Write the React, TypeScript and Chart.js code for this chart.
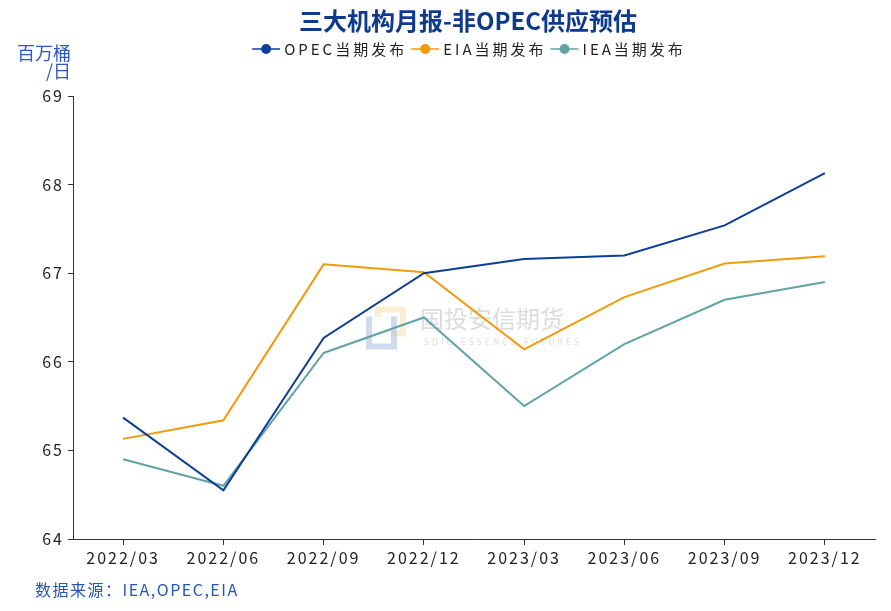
import React, { useEffect, useRef } from "react";
import { Chart, registerables } from "chart.js";

Chart.register(...registerables);

const categories = ["2022/03", "2022/06", "2022/09", "2022/12", "2023/03", "2023/06", "2023/09", "2023/12"];
const opecValues = [65.37, 64.55, 66.27, 67.0, 67.16, 67.2, 67.54, 68.13];
const eiaValues = [65.13, 65.34, 67.1, 67.01, 66.14, 66.73, 67.11, 67.19];
const ieaValues = [64.9, 64.6, 66.1, 66.5, 65.5, 66.2, 66.7, 66.9];
const seriesNames = ["OPEC当期发布", "EIA当期发布", "IEA当期发布"];
const seriesColors = ["#0c3f96", "#f39a0b", "#62a3a6"];
const yMin = 64;
const yMax = 69;
const titleText = "三大机构月报-非OPEC供应预估";
const unitLines = ["百万桶", "/日"];
const sourceText = "数据来源：IEA,OPEC,EIA";

const FONT = "'Noto Sans CJK SC', 'Noto Sans', sans-serif";

const decorPlugin = {
  id: "decor",
  beforeDraw(chart: any) {
    (chart.ctx as any).letterSpacing = "2px";
  },
  beforeDatasetsDraw(chart: any) {
    const { ctx, chartArea } = chart;
    const cx = (chartArea.left + chartArea.right) / 2;
    const cy = (chartArea.top + chartArea.bottom) / 2;
    ctx.save();
    ctx.fillStyle = "rgba(252,222,170,0.55)";
    ctx.fillRect(cx - 99, cy - 11, 31, 30);
    ctx.fillStyle = "#ffffff";
    ctx.fillRect(cx - 93, cy - 5, 19, 18);
    ctx.fillStyle = "rgba(170,190,222,0.55)";
    ctx.fillRect(cx - 108, cy - 1, 31, 33);
    ctx.fillStyle = "#ffffff";
    ctx.fillRect(cx - 102, cy - 1, 19, 27);
    (ctx as any).letterSpacing = "0px";
    ctx.font = `24px ${FONT}`;
    ctx.fillStyle = "rgba(185,185,185,0.5)";
    ctx.textBaseline = "middle";
    ctx.textAlign = "left";
    ctx.fillText("国投安信期货", cx - 54, cy + 1);
    ctx.font = `8px 'DejaVu Sans', sans-serif`;
    (ctx as any).letterSpacing = "3px";
    ctx.fillStyle = "rgba(200,200,200,0.6)";
    ctx.fillText("SDIC ESSENCE FUTURES", cx - 50, cy + 25);
    ctx.restore();
  },
  afterDraw(chart: any) {
    const { ctx, chartArea } = chart;
    const cx = (chartArea.left + chartArea.right) / 2;
    ctx.save();
    // title
    (ctx as any).letterSpacing = "0px";
    ctx.font = `bold 24px ${FONT}`;
    ctx.fillStyle = "#0d3a8c";
    ctx.textAlign = "center";
    ctx.textBaseline = "middle";
    ctx.fillText(titleText, cx - 6, 21);

    // legend
    (ctx as any).letterSpacing = "3px";
    ctx.font = `15px ${FONT}`;
    const iconW = 28;
    const gapIconText = 4;
    const gapItems = 4;
    const widths = seriesNames.map((n) => ctx.measureText(n).width);
    const total = widths.reduce((a, w) => a + iconW + gapIconText + w, 0) + gapItems * (seriesNames.length - 1);
    let x = cx - 5 - total / 2;
    const ly = 49;
    seriesNames.forEach((name, i) => {
      ctx.strokeStyle = seriesColors[i];
      ctx.lineWidth = 1.5;
      ctx.beginPath();
      ctx.moveTo(x, ly);
      ctx.lineTo(x + iconW, ly);
      ctx.stroke();
      ctx.fillStyle = seriesColors[i];
      ctx.beginPath();
      ctx.arc(x + iconW / 2, ly, 5, 0, Math.PI * 2);
      ctx.fill();
      x += iconW + gapIconText;
      ctx.fillStyle = "#222";
      ctx.textAlign = "left";
      ctx.fillText(name, x, ly);
      x += widths[i] + gapItems;
    });

    // unit
    (ctx as any).letterSpacing = "0px";
    ctx.font = `18px ${FONT}`;
    ctx.fillStyle = "#2f56c8";
    ctx.textAlign = "right";
    ctx.fillText(unitLines[0], chartArea.left - 2, 53);
    ctx.fillText(unitLines[1], chartArea.left - 2, 71);

    // source
    (ctx as any).letterSpacing = "1.5px";
    ctx.font = `16px ${FONT}`;
    ctx.fillStyle = "#2457b0";
    ctx.textAlign = "left";
    ctx.fillText(sourceText, 35, 590);
    ctx.restore();
  },
};

export default function App() {
  const ref = useRef<HTMLCanvasElement | null>(null);
  useEffect(() => {
    if (!ref.current) return;
    const data = [opecValues, eiaValues, ieaValues];
    const chart = new Chart(ref.current, {
      type: "line",
      data: {
        labels: categories,
        datasets: data.map((vals, i) => ({
          label: seriesNames[i],
          data: vals,
          borderColor: seriesColors[i],
          backgroundColor: seriesColors[i],
          borderWidth: 2,
          pointRadius: 0,
          pointHoverRadius: 0,
          tension: 0,
        })),
      },
      options: {
        animation: false,
        responsive: false,
        maintainAspectRatio: false,
        layout: { padding: { left: 0, right: 16, top: 96, bottom: 0 } },
        plugins: {
          title: { display: false },
          legend: { display: false },
          tooltip: { enabled: false },
        },
        scales: {
          x: {
            type: "category",
            offset: true,
            afterFit: (s: any) => {
              s.height = 72;
            },
            grid: { drawOnChartArea: false, drawTicks: true, tickLength: 6, color: "#333" },
            border: { display: true, color: "#333", width: 1 },
            ticks: { color: "#222", font: { family: FONT, size: 16 }, padding: 3, maxRotation: 0, autoSkip: false },
          },
          y: {
            min: yMin,
            max: yMax,
            afterFit: (s: any) => {
              s.width = 73;
            },
            grid: { drawOnChartArea: false, drawTicks: true, tickLength: 5, color: "#333" },
            border: { display: true, color: "#333", width: 1 },
            ticks: { stepSize: 1, color: "#222", font: { family: FONT, size: 16 }, padding: 4 },
          },
        },
      },
      plugins: [decorPlugin],
    });
    return () => chart.destroy();
  }, []);
  return (
    <div style={{ position: "absolute", left: 0, top: 0, width: 891, height: 611, background: "#fff" }}>
      <canvas ref={ref} width={891} height={611} style={{ width: 891, height: 611, display: "block" }} />
    </div>
  );
}
